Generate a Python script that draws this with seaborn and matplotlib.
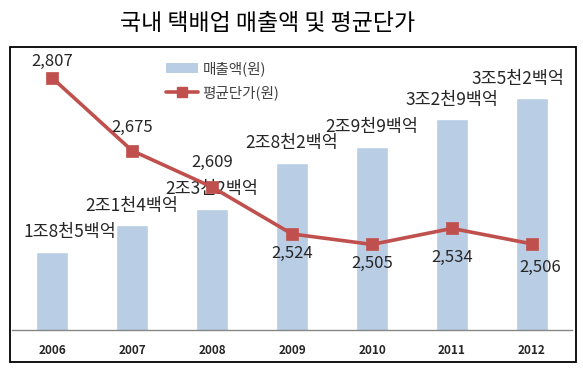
import numpy as np
import pandas as pd
import matplotlib
matplotlib.use("Agg")
import matplotlib.pyplot as plt
from matplotlib.patches import Patch, Rectangle
from matplotlib.lines import Line2D
import seaborn as sns

years = ["2006", "2007", "2008", "2009", "2010", "2011", "2012"]
revenue = [18500, 21400, 23200, 28200, 29900, 32900, 35200]  # 억원
revenue_labels = ["1조8천5백억", "2조1천4백억", "2조3천2백억", "2조8천2백억",
                  "2조9천9백억", "3조2천9백억", "3조5천2백억"]
unit_price = [2807, 2675, 2609, 2524, 2505, 2534, 2506]
price_labels = ["2,807", "2,675", "2,609", "2,524", "2,505", "2,534", "2,506"]

bar_color = "#B9CDE5"
line_color = "#C0504D"
text_color = "#262626"

sns.set_style("white")
plt.rcParams['font.family'] = ['Noto Sans CJK KR', 'DejaVu Sans']

df = pd.DataFrame({"year": years, "revenue": revenue, "price": unit_price})

fig = plt.figure(figsize=(5.83, 3.73), dpi=100)
ax = fig.add_axes([12 / 583, 1 - 330 / 373, 560 / 583, 276 / 373])

sns.barplot(data=df, x="year", y="revenue", color=bar_color, width=0.41,
            saturation=1, ax=ax)
ax.set_ylim(10000, 40000)
ax.set_xlim(-0.5, len(years) - 0.5)

ax2 = ax.twinx()
sns.pointplot(data=df, x="year", y="price", color=line_color, markers="s",
              ax=ax2, markersize=7, linewidth=2.6)
ax2.set_ylim(2350, 2850)
ax2.set_xlim(-0.5, len(years) - 0.5)

# bar labels
bar_dx = [13, 0, 0, 0, 0, 0, -10]
for i, (v, lab) in enumerate(zip(revenue, revenue_labels)):
    ax.annotate(lab, (i, v), xytext=(bar_dx[i], 14), textcoords="offset points",
                ha="center", va="center", fontsize=12.5, color=text_color)

# line labels
price_off = [(0, 12), (0, 17), (0, 18), (0, -14), (0, -14), (0, -21), (6, -17)]
for i, (v, lab) in enumerate(zip(unit_price, price_labels)):
    dx, dy = price_off[i]
    ax2.annotate(lab, (i, v), xytext=(dx, dy), textcoords="offset points",
                 ha="center", va="center", fontsize=12, color=text_color)

for a in (ax, ax2):
    for s in ["top", "right", "left"]:
        a.spines[s].set_visible(False)
    a.set_yticks([])
    a.set_ylabel("")
    a.set_xlabel("")
ax2.spines["bottom"].set_visible(False)
ax.spines["bottom"].set_color("#868686")
ax.spines["bottom"].set_linewidth(1)

ax.tick_params(axis="x", which="major", length=0, pad=10, labelsize=8.5,
               labelcolor=text_color)
ax.set_xticks(np.arange(0.5, len(years) - 1, 1.0), minor=True)
ax.tick_params(axis="x", which="minor", length=4, color="#868686", direction="out")
for t in ax.get_xticklabels():
    t.set_fontweight("bold")

handles = [Patch(facecolor=bar_color, edgecolor="none"),
           Line2D([0], [0], color=line_color, lw=2.6, marker="s", markersize=7)]
ax2.legend(handles, ["매출액(원)", "평균단가(원)"], loc="upper left",
           bbox_to_anchor=(0.252, 1.02), frameon=False, fontsize=10.5,
           labelcolor="#404040", handlelength=2.2, handletextpad=0.3,
           labelspacing=0.6)

# outer box
fig.patches.append(Rectangle((10 / 583, 1 - 362 / 373), 566 / 583, 315 / 373,
                             transform=fig.transFigure, fill=False,
                             edgecolor="black", linewidth=1.3))

fig.text(268 / 583, 1 - 24 / 373, "국내 택배업 매출액 및 평균단가",
         ha="center", va="center", fontsize=16.5, color="black")

fig.savefig("out.png", dpi=100)
